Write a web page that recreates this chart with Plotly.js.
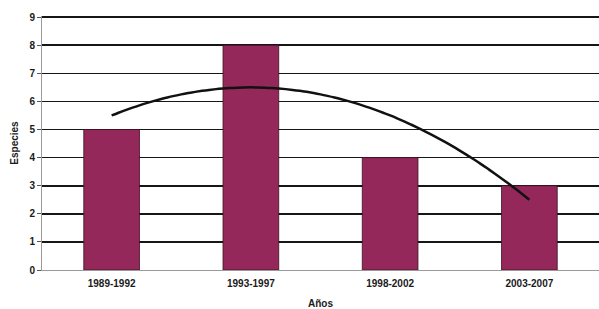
<!DOCTYPE html>
<html>
<head>
<meta charset="utf-8">
<script src="https://cdn.plot.ly/plotly-3.0.1.min.js"></script>
<style>html,body{margin:0;padding:0;background:#fff;}#chart{width:599px;height:309px;}</style>
</head>
<body>
<div id="chart"></div>
<script>
// Data
const categories = ["1989-1992", "1993-1997", "1998-2002", "2003-2007"];
const especies = [5, 8, 4, 3];
const yTicks = [0, 1, 2, 3, 4, 5, 6, 7, 8, 9];

// Positions of categories on a numeric axis
const xs = categories.map((_, i) => i);

// Second-order polynomial trendline (least squares fit of the data)
function polyFit2(x, y) {
  const n = x.length;
  let s = [0, 0, 0, 0, 0], t = [0, 0, 0];
  for (let i = 0; i < n; i++) {
    let p = 1;
    for (let k = 0; k <= 4; k++) { s[k] += p; if (k <= 2) t[k] += p * y[i]; p *= x[i]; }
  }
  const A = [[s[0], s[1], s[2], t[0]], [s[1], s[2], s[3], t[1]], [s[2], s[3], s[4], t[2]]];
  for (let c = 0; c < 3; c++) {
    for (let r = c + 1; r < 3; r++) {
      const f = A[r][c] / A[c][c];
      for (let k = c; k < 4; k++) A[r][k] -= f * A[c][k];
    }
  }
  const co = [0, 0, 0];
  for (let r = 2; r >= 0; r--) {
    let v = A[r][3];
    for (let k = r + 1; k < 3; k++) v -= A[r][k] * co[k];
    co[r] = v / A[r][r];
  }
  return co;
}
const coef = polyFit2(xs, especies);
const trendX = [], trendY = [];
const steps = 60;
for (let i = 0; i <= steps; i++) {
  const x = xs[0] + (xs[xs.length - 1] - xs[0]) * i / steps;
  trendX.push(x);
  trendY.push(coef[0] + coef[1] * x + coef[2] * x * x);
}

const fam = "Liberation Sans, Arial, sans-serif";
const labelFont = {family: fam, size: 10, color: "#1a1a1a", weight: "bold"};

const traces = [
  {
    type: "bar",
    x: xs,
    y: especies,
    width: 0.4,
    marker: {color: "#95285A", line: {color: "#3a1020", width: 0.8}},
    hoverinfo: "skip"
  },
  {
    type: "scatter",
    mode: "lines",
    x: trendX,
    y: trendY,
    line: {color: "#111111", width: 2.5, shape: "spline"},
    hoverinfo: "skip"
  }
];

const layout = {
  width: 599,
  height: 309,
  margin: {l: 42, r: 0, t: 16, b: 39},
  paper_bgcolor: "#ffffff",
  plot_bgcolor: "#ffffff",
  showlegend: false,
  font: {family: fam, size: 10, color: "#1a1a1a"},
  xaxis: {
    range: [-0.5, 3.5],
    tickvals: xs,
    ticktext: categories,
    showgrid: false,
    zeroline: false,
    showline: true,
    linecolor: "#9a9a9a",
    linewidth: 1,
    ticks: "",
    ticklabelstandoff: 4,
    tickfont: labelFont,
    title: {text: "Años", font: labelFont, standoff: 12},
    fixedrange: true
  },
  yaxis: {
    range: [0, 9.04],
    tickvals: yTicks,
    ticktext: yTicks.map(String),
    showgrid: true,
    gridcolor: "#161616",
    gridwidth: 1.6,
    zeroline: false,
    showline: true,
    linecolor: "#9a9a9a",
    linewidth: 1,
    ticks: "outside",
    ticklen: 4,
    tickcolor: "#555",
    tickfont: labelFont,
    title: {text: "Especies", font: labelFont, standoff: 8},
    fixedrange: true
  }
};

Plotly.newPlot("chart", traces, layout, {staticPlot: true, displayModeBar: false});
</script>
</body>
</html>
